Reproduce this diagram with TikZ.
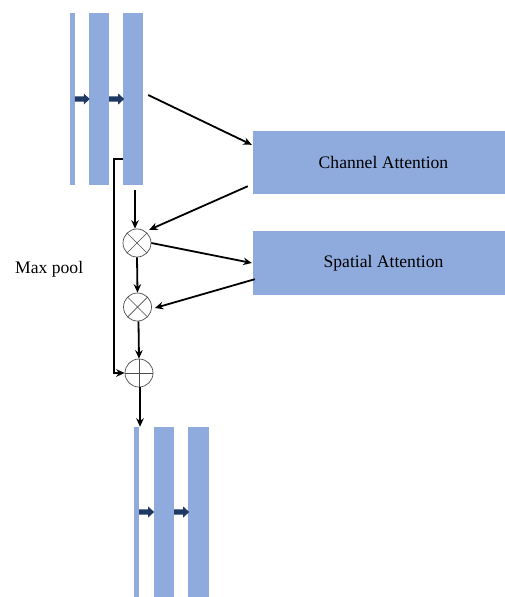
\documentclass[tikz,border=0pt]{standalone}
\usepackage{fontspec}
\setmainfont{Liberation Serif}
\usetikzlibrary{calc,arrows.meta}
\definecolor{barblue}{HTML}{8FAADC}
\definecolor{navy}{HTML}{203864}
\begin{document}
\begin{tikzpicture}[x=1pt,y=-1pt,
  bar/.style={fill=barblue,draw=none,inner sep=0pt,minimum width=20pt,minimum height=172pt},
  thinbar/.style={bar,minimum width=4.5pt},
  attbox/.style={fill=barblue,draw=none,inner sep=0pt,minimum width=261pt,minimum height=63pt,
    font=\fontsize{17.6}{20}\selectfont},
  opnode/.style={circle,draw=black!70,line width=0.7pt,minimum size=28pt,inner sep=0pt},
  times/.style={opnode,path picture={\draw[black!70,line width=0.7pt]
     (path picture bounding box.north west) -- (path picture bounding box.south east)
     (path picture bounding box.north east) -- (path picture bounding box.south west);}},
  plus/.style={opnode,path picture={\draw[black!70,line width=0.7pt]
     (path picture bounding box.north) -- (path picture bounding box.south)
     (path picture bounding box.east) -- (path picture bounding box.west);}},
  conn/.style={line width=1.8pt,-{Stealth[length=8.5pt,width=7.5pt]}},
  blockarr/.pic={\fill[navy] (0,-2.7) -- (9,-2.7) -- (9,-5.5) -- (15,0) -- (9,5.5) -- (9,2.7) -- (0,2.7) -- cycle;},
  lbl/.style={font=\fontsize{17.6}{20}\selectfont,inner sep=0pt}
]
\useasboundingbox[fill=white] (0,0) rectangle (505,597);
% top bars
\node[thinbar] (tb1) at (72.3,99) {};
\node[bar] (tb2) at (99,99) {};
\node[bar] (tb3) at (133,99) {};
\pic at (tb1.east) {blockarr};
\pic at (tb2.east) {blockarr};
% attention boxes
\node[attbox] (ch) at (383.5,162.5) {Channel Attention};
\node[attbox,minimum height=64pt] (sp) at (383.5,263) {Spatial Attention};
% operators
\node[times] (c1) at (137,243) {};
\node[times] (c2) at (137.5,307) {};
\node[plus] (c3) at (139,373) {};
% bottom bars
\node[thinbar,minimum height=170pt] (bb1) at (136.7,512) {};
\node[bar,minimum height=170pt] (bb2) at (164,512) {};
\node[bar,minimum height=170pt,minimum width=21pt] (bb3) at (198.5,512) {};
\pic at (bb1.east) {blockarr};
\pic at (bb2.east) {blockarr};
% label
\node[lbl,anchor=base west] (mp) at (15,273) {Max pool};
% connectors
\draw[conn] ($(tb3.east)+(5,-4)$) -- ($(ch.north west)+(-1,14)$);
\draw[conn] ($(ch.south west)+(-5,-8)$) -- ($(c1.north east)+(2,-3)$);
\draw[conn] ($(c1.north |- tb3.south)+(-2,5)$) -- ($(c1.north)+(-2,0)$);
\draw[conn] (c1.east) -- ($(sp.west)+(-1,0)$);
\draw[conn] ($(sp.south west)+(2,-16)$) -- ($(c2.east)+(3,1)$);
\draw[conn] (c1.south) -- (c2.north);
\draw[conn] ($(c2.south)+(1,0)$) -- (c3.north);
\draw[conn] ($(tb3.west)+(0,60)$) -- ++(-9,0) |- (c3.west);
\draw[conn] ($(c3.south)+(1,0)$) -- ($(c3.south |- bb1.north)+(1,0)$);
\end{tikzpicture}
\end{document}
